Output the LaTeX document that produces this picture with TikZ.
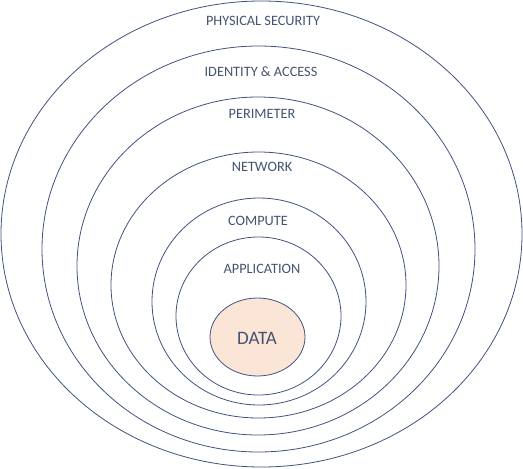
\documentclass[tikz,border=0pt]{standalone}
\usepackage{fontspec}
\setmainfont{Carlito}
\begin{document}
\begin{tikzpicture}[x=1pt,y=-1pt,
    ring/.style={draw=ringline,line width=0.8pt},
    layerlabel/.style={font=\fontsize{14.3}{16}\selectfont,text=labeltext,inner sep=0pt}]
  % Define colors for the rings and labels
  \definecolor{ringline}{RGB}{66,82,128}
  \definecolor{labeltext}{RGB}{68,84,112}
  \definecolor{datafill}{RGB}{251,229,214}

  \useasboundingbox (0,0) rectangle (523,469);

  % Draw nested ellipses from outermost to innermost
  \draw[ring] (261.5,234) ellipse [x radius=260.5, y radius=233];
  \draw[ring] (258.5,249) ellipse [x radius=216.5, y radius=203];
  \draw[ring] (258,266) ellipse [x radius=181, y radius=169];
  \draw[ring] (258.5,285) ellipse [x radius=147.5, y radius=133];
  \draw[ring] (259,301.5) ellipse [x radius=107, y radius=103.5];
  \draw[ring] (258.5,316) ellipse [x radius=82.5, y radius=79];
  \draw[ring,fill=datafill] (257.5,337) ellipse [x radius=47.5, y radius=39];

  % Add labels
  \node[layerlabel] (physical) at (263,21) {PHYSICAL SECURITY};
  \node[layerlabel] (identity) at (261,72) {IDENTITY \& ACCESS};
  \node[layerlabel] (perimeter) at (262,114) {PERIMETER};
  \node[layerlabel] (network) at (262,167) {NETWORK};
  \node[layerlabel] (compute) at (258,221) {COMPUTE};
  \node[layerlabel] (application) at (262,269) {APPLICATION};
  \node[layerlabel,font=\fontsize{19}{21}\selectfont] (data) at (257,338) {DATA};
\end{tikzpicture}
\end{document}
